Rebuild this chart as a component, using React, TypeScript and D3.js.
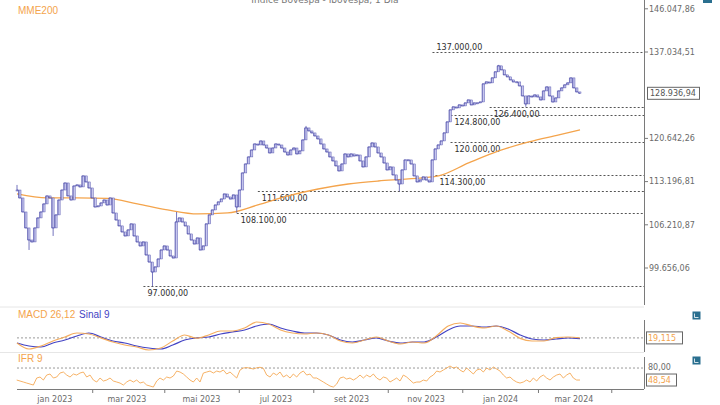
import React from "react";
import * as d3 from "d3";

// Ibovespa daily closes, Dec 2022 -> Mar 2024
const closes = [
  111800, 110500, 108240, 105720, 103860, 103560, 105720, 107290, 108240, 109530,
  110830, 110500, 105720, 107770, 110170, 111800, 112970, 110830, 110170, 112470,
  112640, 112310, 114150, 113140, 112140, 110500, 109040, 109200, 109690, 110170,
  109360, 110500, 108080, 106970, 106040, 105100, 104480, 105410, 106350, 104480,
  103560, 102950, 103560, 101590, 100540, 99070, 99810, 100990, 102340, 102950,
  102340, 101440, 101140, 106660, 107290, 106660, 106040, 104790, 103860, 103250,
  104170, 102340, 102950, 106350, 107770, 108560, 109360, 109850, 110330, 111150,
  110660, 110330, 110990, 109040, 111800, 114650, 116180, 117390, 118600, 119660,
  119480, 120190, 119480, 118950, 118080, 118950, 119660, 119480, 118950, 118250,
  117730, 118600, 118950, 117910, 118430, 120370, 122520, 121980, 121620, 121080,
  120550, 119660, 118780, 118250, 117390, 116700, 115850, 114990, 116180, 117910,
  117390, 117910, 117560, 117730, 116700, 115670, 117390, 119130, 119840, 119130,
  118080, 117390, 116350, 115160, 115670, 114320, 113470, 112800, 115160, 116870,
  116870, 116180, 114150, 113140, 113470, 113980, 113470, 113140, 116870, 118780,
  119480, 120190, 121620, 123610, 125820, 126380, 126190, 126750, 126560, 127120,
  127680, 126750, 127120, 127120, 127300, 130740, 131120, 130930, 131900, 133080,
  134260, 133470, 132490, 132100, 131510, 131120, 131120, 130350, 128440, 126930,
  128440, 128250, 128630, 128250, 127680, 129390, 130160, 128440, 127300, 128060,
  129390, 129970, 130550, 130930, 131900, 129970, 129200, 128936.94,
];

// a few visible wicks: [candle index, price]
const wickLows = [[4, 102340], [12, 104480], [45, 97000], [73, 108100], [127, 111600], [169, 126400]];
const wickHighs = [[0, 112640], [53, 108240], [96, 122880], [160, 134460]];

// MME200 (exponential moving average), sampled at candle indices
const mmeAt = [0, 10, 20, 30, 40, 50, 60, 70, 80, 90, 100, 110, 120, 130, 140, 150, 160, 170, 180, 187];
const mme200 = [111150, 110500, 110500, 110420, 109530, 108560, 107920, 108080, 109360, 110830,
  111970, 112800, 113300, 113640, 114150, 116350, 118430, 120010, 121260, 122160];

// support / resistance levels and the candle where each dashed line starts
const levels = [137000, 126400, 124800, 120000, 114300, 111600, 108100, 97000];
const levelFrom = [138, 157, 144, 144, 139, 80, 73, 42];

const priceTicks = [146047.86, 137034.51, 120642.26, 113196.81, 106210.87, 99656.06];

// MACD 26,12 and signal 9
const macd = [-890, -1960, -1430, -540, 180, 890, 710, 30, -710, -1250,
  -1610, -2140, -1790, -540, 540, -40, 540, 1250, 1250, 1790,
  2860, 2500, 1430, 890, 710, 890, 540, -540, -890, -360,
  180, -540, -1070, -710, -890, 360, 2140, 2680, 2140, 1790,
  2140, 1250, -60, -540, -540, 60, 180, 19.115];
const signal = [-890, -1430, -1610, -890, -360, 360, 890, 180, -540, -890,
  -1430, -1790, -1960, -1250, -360, 20, 180, 710, 1070, 1430,
  2140, 2500, 1790, 1250, 890, 890, 540, -360, -710, -360,
  0, -540, -890, -710, -710, 180, 1430, 2140, 2140, 1960,
  2140, 1610, 540, -180, -360, -180, 0, -120];

// IFR 9 (RSI)
const ifr = [
  48.5, 45.9, 43.3, 40.6, 38.0, 35.4, 53.8, 56.4, 48.5, 61.6,
  64.3, 53.8, 56.4, 66.9, 69.5, 61.6, 56.4, 64.3, 61.6, 66.9,
  69.5, 56.4, 61.6, 48.5, 43.3, 53.8, 45.9, 48.5, 53.8, 45.9,
  43.3, 40.6, 35.4, 43.3, 48.5, 43.3, 48.5, 40.6, 43.3, 35.4,
  32.8, 30.1, 45.9, 53.8, 48.5, 56.4, 53.8, 59.0, 72.1, 69.5,
  64.3, 56.4, 48.5, 43.3, 53.8, 43.3, 66.9, 69.5, 72.1, 66.9,
  72.1, 69.5, 74.8, 64.3, 69.5, 61.6, 53.8, 74.8, 80.0, 81.2,
  79.5, 77.4, 80.6, 82.0, 79.1, 61.6, 56.4, 66.9, 61.6, 69.5,
  56.4, 61.6, 53.8, 64.3, 56.4, 66.9, 72.1, 61.6, 64.3, 53.8,
  53.8, 48.5, 43.3, 38.0, 32.8, 30.1, 38.0, 53.8, 56.4, 51.1,
  53.8, 48.5, 53.8,
  61.6, 53.8, 61.6, 56.4, 64.3, 53.8, 48.5, 56.4, 53.8, 43.3,
  48.5, 53.8, 45.9, 61.6, 56.4, 48.5, 40.6, 43.3, 43.3, 48.5,
  45.9, 56.4, 61.6, 72.1, 69.5, 74.8, 80.0, 85.3, 80.0, 82.6,
  74.8, 69.5, 80.0, 72.1, 64.3, 74.8, 77.4, 69.5, 80.0, 74.8,
  82.6, 77.4, 72.1, 61.6, 53.8, 56.4, 48.5, 43.3, 40.6, 43.3,
  48.5, 43.3, 53.8, 45.9, 56.4, 61.6, 53.8, 48.5, 56.4, 61.6,
  64.3, 53.8, 61.6, 66.9, 53.8, 48.5, 48.54,
];

// time axis
const monthLabels = ["jan 2023", "mar 2023", "mai 2023", "jul 2023", "set 2023", "nov 2023", "jan 2024", "mar 2024"];
const labelDates = ["2023-01-01", "2023-03-01", "2023-05-01", "2023-07-01", "2023-09-01", "2023-11-01", "2024-01-01", "2024-03-01"];
const minorDates = ["2023-02-01", "2023-04-01", "2023-06-01", "2023-08-01", "2023-10-01", "2023-12-01", "2024-02-01", "2024-04-01"];

const ORANGE = "#f4a44c";
const BLUE = "#4343c4";
const CANDLE = "#5252ad";
const AXIS = "#7a7a7a";
const TXT = "#6a6a6a";
const SANS = "'DejaVu Sans', Verdana, sans-serif";
const ARIAL = "'Liberation Sans', Arial, sans-serif";

const locale = d3.formatLocale({ decimal: ",", thousands: ".", grouping: [3], currency: ["", ""] });
const fmt2 = locale.format(",.2f");
const fmt3 = locale.format(".3f");

export default function App() {
  const left = 17, right = 580, axisX = 644;

  const parse = d3.utcParse("%Y-%m-%d");
  const xTime = d3.scaleUtc()
    .domain([parse("2022-12-01")!, parse("2024-03-06")!])
    .range([left, right]);

  const xc = d3.scaleLinear().domain([0, closes.length - 1]).range([left, right]);
  const xm = d3.scaleLinear().domain([0, macd.length - 1]).range([left, right]);
  const xr = d3.scaleLinear().domain([0, ifr.length - 1]).range([left - 0.3, right]);

  const y = d3.scaleLog().domain([99656.06, 146047.86]).range([268, 8.8]);
  const ym = d3.scaleLinear().domain([-2500, 5000]).range([352, 310]);
  const yr = d3.scaleLinear().domain([25, 100]).range([389, 360.4]);

  const mmeLine = d3.line<number>()
    .x((d, i) => xc(mmeAt[i]))
    .y((d) => y(d))
    .curve(d3.curveMonotoneX)(mme200);

  const stepLine = d3.line<number>()
    .x((d, i) => xc(i))
    .y((d) => y(d))
    .curve(d3.curveStep)(closes);

  const macdLine = d3.line<number>().x((d, i) => xm(i)).y((d) => ym(d)).curve(d3.curveMonotoneX);
  const rsiLine = d3.line<number>().x((d, i) => xr(i)).y((d) => yr(d));

  const last = closes[closes.length - 1];
  const lastMacd = macd[macd.length - 1];
  const lastIfr = ifr[ifr.length - 1];

  return (
    <svg width={720} height={405} style={{ position: "absolute", left: 0, top: 0, background: "#fff" }}>
      {/* header, clipped by the top edge as in the source */}
      <text x={325} y={3} textAnchor="middle" fontFamily={SANS} fontSize={9} fill="#777">
        Índice Bovespa - Ibovespa, 1 Dia
      </text>
      <rect x={703} y={-4} width={9} height={7} fill="#2a6f8f" />
      <text x={18} y={14} fontFamily={ARIAL} fontSize={10} fill={ORANGE}>MME200</text>

      {/* panel separators */}
      <line x1={0} x2={axisX} y1={307} y2={307} stroke="#e6e6e6" />
      <line x1={0} x2={axisX} y1={352.5} y2={352.5} stroke="#e6e6e6" />

      {/* price axis */}
      <line x1={axisX + 0.5} x2={axisX + 0.5} y1={0} y2={305} stroke={AXIS} />
      {priceTicks.map((t) => (
        <g key={t}>
          <line x1={axisX} x2={axisX + 4} y1={y(t)} y2={y(t)} stroke={AXIS} />
          <text x={axisX + 5} y={y(t)} dy="0.35em" fontFamily={SANS} fontSize={8} fill={TXT}>{fmt2(t)}</text>
        </g>
      ))}

      {/* support / resistance */}
      {levels.map((lv, k) => {
        const yy = Math.round(y(lv)) + 0.5;
        const x0 = xc(levelFrom[k]);
        const above = k === 0;
        return (
          <g key={lv}>
            <line x1={x0} x2={axisX} y1={yy} y2={yy} stroke="#555" strokeDasharray="2,2" />
            <text x={x0 + 4} y={above ? yy - 3 : yy + 9} fontFamily={SANS} fontSize={8} fill="#2e2e2e">
              {fmt2(lv)}
            </text>
          </g>
        );
      })}

      {/* moving average */}
      <path d={mmeLine ?? ""} fill="none" stroke={ORANGE} strokeWidth={1.3} />

      {/* candles */}
      {wickLows.map(([i, v]) => (
        <line key={"l" + i} x1={xc(i)} x2={xc(i)} y1={y(Math.min(closes[i], closes[Math.max(0, i - 1)]))} y2={y(v)} stroke={CANDLE} strokeWidth={0.8} />
      ))}
      {wickHighs.map(([i, v]) => (
        <line key={"h" + i} x1={xc(i)} x2={xc(i)} y1={y(Math.max(closes[i], closes[Math.max(0, i - 1)]))} y2={y(v)} stroke={CANDLE} strokeWidth={0.8} />
      ))}
      {closes.map((c, i) => {
        const o = i === 0 ? c : closes[i - 1];
        const y1 = y(Math.max(o, c));
        const h = Math.max(1, y(Math.min(o, c)) - y1);
        return (
          <rect key={i} x={xc(i) - 1} y={y1} width={2} height={h}
            fill="#c6c6ee" stroke={CANDLE} strokeWidth={0.45} />
        );
      })}
      <path d={stepLine ?? ""} fill="none" stroke={CANDLE} strokeWidth={0.7} />

      {/* last price box */}
      <rect x={647.5} y={y(last) - 6} width={52} height={12} fill="#fff" stroke="#666" />
      <text x={650} y={y(last)} dy="0.35em" fontFamily={SANS} fontSize={8} fill="#555">{fmt2(last)}</text>

      {/* MACD panel */}
      <text x={18} y={318} fontFamily={ARIAL} fontSize={10} fill={ORANGE}>MACD 26,12</text>
      <text x={79} y={318} fontFamily={ARIAL} fontSize={10} fill={BLUE}>Sinal 9</text>
      <line x1={left} x2={axisX} y1={ym(lastMacd)} y2={ym(lastMacd)} stroke="#999" strokeDasharray="2,2" />
      <path d={macdLine(signal) ?? ""} fill="none" stroke={BLUE} strokeWidth={1.2} />
      <path d={macdLine(macd) ?? ""} fill="none" stroke={ORANGE} strokeWidth={1.2} opacity={0.9} />
      <line x1={axisX + 0.5} x2={axisX + 0.5} y1={320} y2={352} stroke={AXIS} />
      <rect x={646.5} y={ym(lastMacd) - 6} width={36} height={12} fill="#fff" stroke="#666" />
      <text x={648} y={ym(lastMacd)} dy="0.35em" fontFamily={SANS} fontSize={8} fill={ORANGE}>{fmt3(lastMacd)}</text>
      <rect x={692.5} y={311.5} width={8} height={8} fill="#2a6f8f" />
      <path d="M694.5 313.5 v4 h4" stroke="#fff" fill="none" strokeWidth={0.8} />

      {/* IFR panel */}
      <text x={18} y={362} fontFamily={ARIAL} fontSize={10} fill={ORANGE}>IFR 9</text>
      <line x1={left} x2={axisX} y1={yr(80)} y2={yr(80)} stroke="#999" strokeDasharray="2,2" />
      <path d={rsiLine(ifr) ?? ""} fill="none" stroke={ORANGE} strokeWidth={1} opacity={0.85} />
      <line x1={axisX + 0.5} x2={axisX + 0.5} y1={357} y2={389} stroke={AXIS} />
      <text x={648} y={yr(80)} dy="0.3em" fontFamily={SANS} fontSize={8} fill={TXT}>{fmt2(80)}</text>
      <rect x={646.5} y={yr(lastIfr) - 6} width={30} height={12} fill="#fff" stroke="#666" />
      <text x={648} y={yr(lastIfr)} dy="0.35em" fontFamily={SANS} fontSize={8} fill={ORANGE}>{fmt2(lastIfr)}</text>
      <rect x={692.5} y={356.5} width={8} height={8} fill="#2a6f8f" />
      <path d="M694.5 358.5 v4 h4" stroke="#fff" fill="none" strokeWidth={0.8} />

      {/* time axis */}
      <line x1={left} x2={axisX} y1={389.5} y2={389.5} stroke={AXIS} />
      {minorDates.map((d) => (
        <line key={d} x1={xTime(parse(d)!)} x2={xTime(parse(d)!)} y1={389} y2={393} stroke={AXIS} />
      ))}
      {labelDates.map((d, k) => (
        <text key={d} x={xTime(parse(d)!)} y={402} textAnchor="middle" fontFamily={SANS} fontSize={8} fill={TXT}>
          {monthLabels[k]}
        </text>
      ))}
    </svg>
  );
}
